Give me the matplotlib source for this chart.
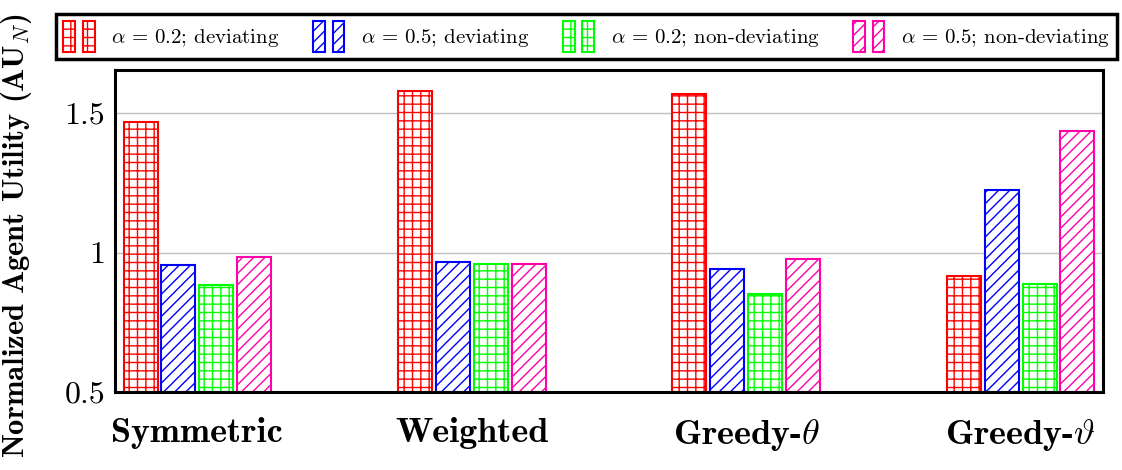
"""
Grouped hatched bar chart of normalized agent utility
for four allocation schemes.
"""

import matplotlib
matplotlib.use("Agg")
import matplotlib.pyplot as plt
from matplotlib.patches import Rectangle
from matplotlib.legend_handler import HandlerTuple
import numpy as np

SCHEMES: list[str] = [
    "Symmetric",
    "Weighted",
    r"Greedy-$\theta$",
    r"Greedy-$\vartheta$",
]

SERIES_LABELS: list[str] = [
    r"$\alpha$ = 0.2; deviating",
    r"$\alpha$ = 0.5; deviating",
    r"$\alpha$ = 0.2; non-deviating",
    r"$\alpha$ = 0.5; non-deviating",
]

DEV_02: list[float] = [1.468, 1.579, 1.568, 0.916]
DEV_05: list[float] = [0.955, 0.966, 0.941, 1.224]
NONDEV_02: list[float] = [0.883, 0.959, 0.851, 0.887]
NONDEV_05: list[float] = [0.984, 0.959, 0.977, 1.435]

Y_TICKS: list[float] = [0.5, 1.0, 1.5]
Y_TICK_LABELS: list[str] = ["0.5", "1", "1.5"]

COLORS: list[str] = ["#ff0000", "#0000ff", "#00ff00", "#ff00aa"]
HATCHES: list[str] = ["++", "///", "++", "///"]

plt.rcParams["mathtext.fontset"] = "cm"
plt.rcParams["font.family"] = ["cmr10", "DejaVu Serif"]
plt.rcParams["axes.formatter.use_mathtext"] = True
plt.rcParams["hatch.linewidth"] = 1.0


def create_bar_chart() -> None:
    fig = plt.figure(figsize=(11.22, 4.70), dpi=100)
    ax = fig.add_axes([0.1025, 0.166, 0.8805, 0.685])

    series = [DEV_02, DEV_05, NONDEV_02, NONDEV_05]
    x = np.arange(len(SCHEMES))
    width = 0.124
    step = 0.138

    for i, values in enumerate(series):
        offset = (i - 1.5) * step
        ax.bar(
            x + offset,
            np.array(values) - 0.5,
            bottom=0.5,
            width=width,
            facecolor="white",
            edgecolor=COLORS[i],
            hatch=HATCHES[i],
            linewidth=1.5,
            zorder=3,
        )

    ax.set_xlim(-0.3, 3.3)
    ax.set_ylim(0.5, 1.655)
    ax.set_yticks(Y_TICKS)
    ax.set_yticklabels(Y_TICK_LABELS, fontsize=23)
    ax.set_xticks(x)
    ax.set_xticklabels(SCHEMES, fontsize=26, fontfamily="cmb10")
    ax.tick_params(axis="both", length=0)
    ax.tick_params(axis="x", pad=18)
    ax.tick_params(axis="y", pad=7)

    ax.grid(axis="y", color="#c0c0c0", linewidth=1.0, zorder=0)
    for spine in ax.spines.values():
        spine.set_linewidth(2.2)
        spine.set_zorder(4)

    fig.text(
        0.015, 0.5,
        r"Normalized Agent Utility (${\mathbf{AU}}_N$)",
        rotation=90, ha="center", va="center",
        fontsize=22, fontfamily="cmb10",
    )

    handles = []
    for i in range(4):
        pair = tuple(
            Rectangle((0, 0), 1, 1, facecolor="white", edgecolor=COLORS[i],
                      hatch=HATCHES[i], linewidth=1.5)
            for _ in range(2)
        )
        handles.append(pair)

    leg = fig.legend(
        handles,
        SERIES_LABELS,
        handler_map={tuple: HandlerTuple(ndivide=None, pad=0.38)},
        loc="lower left",
        bbox_to_anchor=(56 / 1122, 1 - 59 / 470, 1061 / 1122, 55 / 470),
        mode="expand",
        borderaxespad=0,
        ncol=4,
        fontsize=15,
        handlelength=1.5,
        handleheight=1.9,
        handletextpad=0.8,
        columnspacing=0.8,
        borderpad=0.35,
        fancybox=False,
        framealpha=1,
        edgecolor="black",
    )
    leg.get_frame().set_linewidth(2.5)

    fig.savefig("out.png", dpi=100)


if __name__ == "__main__":
    create_bar_chart()
